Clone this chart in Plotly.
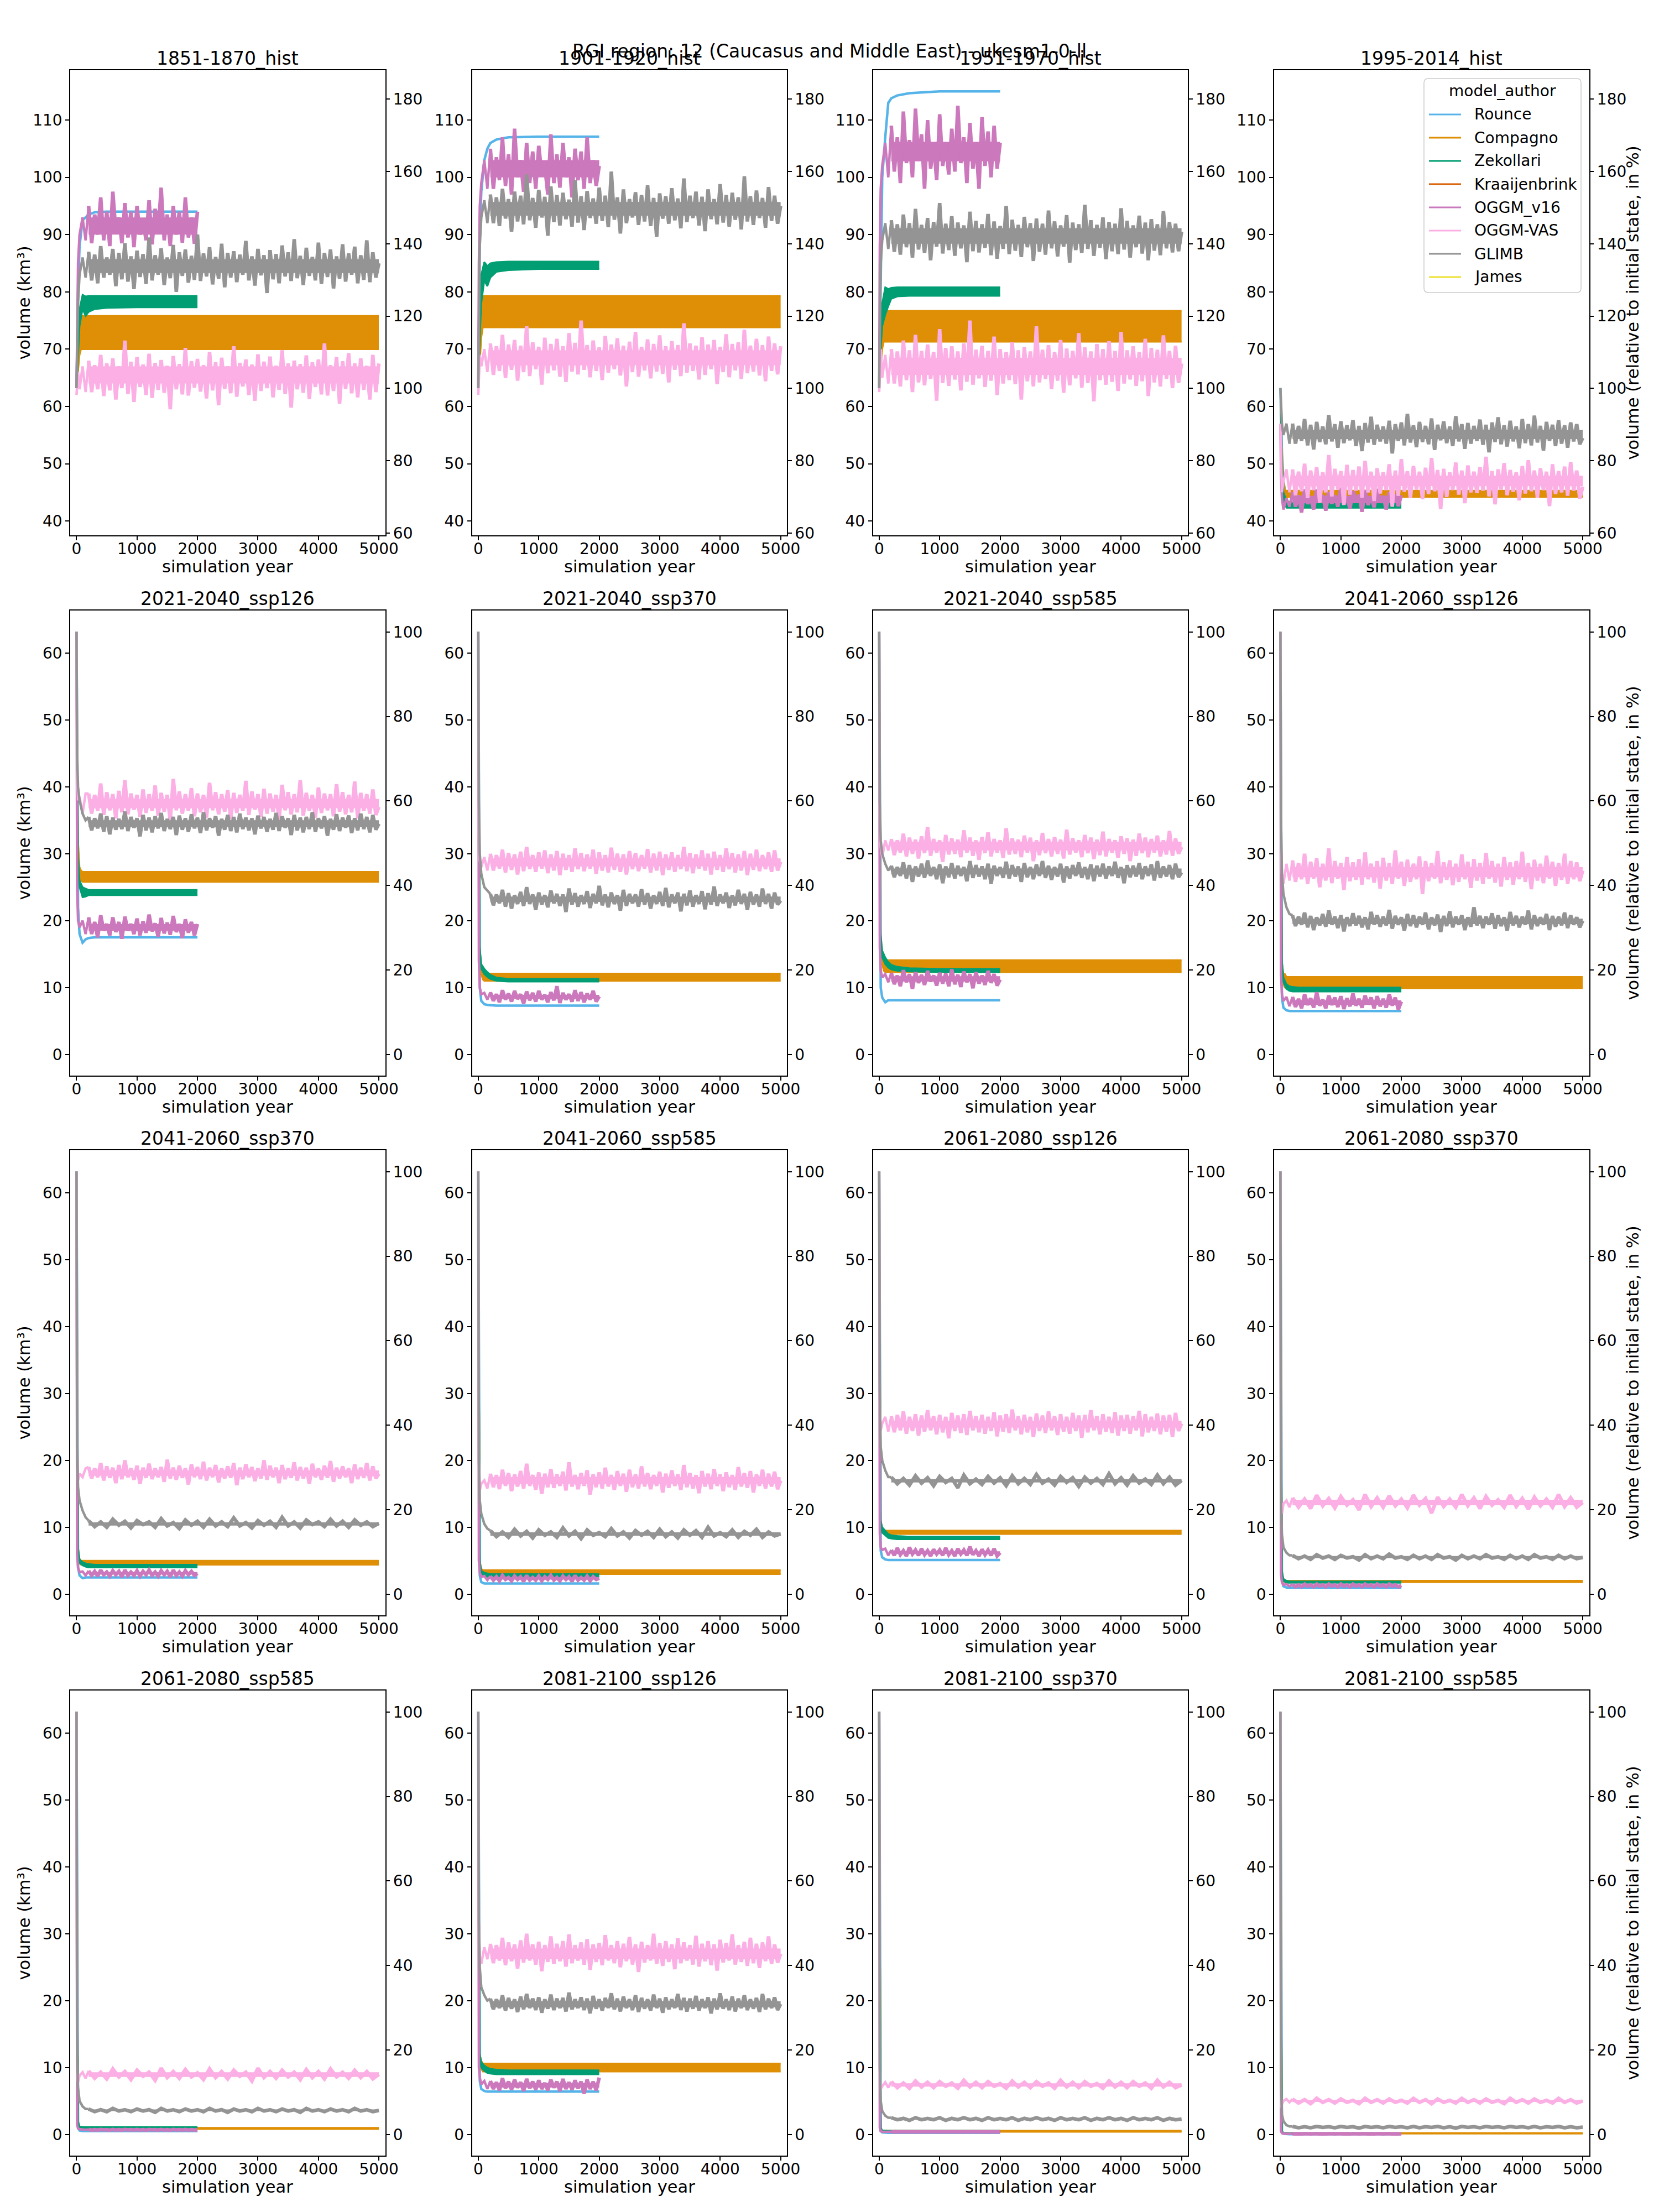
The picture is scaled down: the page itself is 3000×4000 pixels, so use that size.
import plotly.graph_objects as go

# ---------------------------------------------------------------- metadata
SUPTITLE = "RGI region: 12 (Caucasus and Middle East) - ukesm1-0-ll"
PANEL_TITLES = [
    "1851-1870_hist", "1901-1920_hist", "1951-1970_hist", "1995-2014_hist",
    "2021-2040_ssp126", "2021-2040_ssp370", "2021-2040_ssp585", "2041-2060_ssp126",
    "2041-2060_ssp370", "2041-2060_ssp585", "2061-2080_ssp126", "2061-2080_ssp370",
    "2061-2080_ssp585", "2081-2100_ssp126", "2081-2100_ssp370", "2081-2100_ssp585",
]
MODELS = ["Rounce", "Compagno", "Zekollari", "Kraaijenbrink",
          "OGGM_v16", "OGGM-VAS", "GLIMB", "James"]
COLORS = ["#56B4E9", "#DE8F05", "#029E73", "#D55E00",
          "#CC78BC", "#FBAFE4", "#949494", "#ECE133"]
LEGEND_TITLE = "model_author"
INITIAL_VOLUME = 63.15  # km3, = 100 % on the right axes

X_TICKS = [0, 1000, 2000, 3000, 4000, 5000]
Y_TICKS_HIST = [40, 50, 60, 70, 80, 90, 100, 110]
Y2_TICKS_HIST = [60, 80, 100, 120, 140, 160, 180]
Y_TICKS_FUT = [0, 10, 20, 30, 40, 50, 60]
Y2_TICKS_FUT = [0, 20, 40, 60, 80, 100]

# year grids: noisy series = spin-up years, then evenly spaced samples up to the end year
SPIN_YEARS = [0, 10, 25, 50, 100, 150]
SMOOTH_YEARS = [0, 25, 50, 100, 150, 200, 300, 500, 1000, 2000]
COMP_YEARS = [0, 25, 50, 75, 100, 5000]

# dense middle of the noisy equilibrium series, one [low, high] per panel
V16_CORE = [[90, 93], [100, 103], [102.8, 106.2], [43.1, 44.4],
            [18.5, 19.5], [8.3, 8.9], [10.9, 11.7], [7.4, 8.1],
            [2.95, 3.3], [2.2, 2.5], [6, 6.4], [1.2, 1.4],
            [0.68, 0.72], [7, 7.7], [0.39, 0.41], [0.095, 0.105]]
VAS_CORE = [[64, 67], [67.2, 69.8], [65.5, 68.5], [46.1, 47.9],
            [36.8, 38.2], [28.1, 29.3], [30.5, 31.8], [26.5, 28],
            [17.7, 18.5], [16.5, 17.5], [24.9, 25.9], [13.3, 14.1],
            [8.6, 9.3], [26.2, 27.8], [7.15, 7.65], [4.85, 5.15]]
GLIMB_CORE = [[83.3, 85.7], [93.3, 95.7], [88.4, 91.1], [54.3, 55.9],
              [34, 35], [22.8, 23.6], [26.9, 27.8], [19.5, 20.3],
              [10.25, 10.75], [8.75, 9.25], [16.7, 17.2], [5.4, 5.7],
              [3.5, 3.75], [19, 19.9], [2.25, 2.4], [1.05, 1.15]]

# ---------------------------------------------------------------- 1851-1870_hist
P01_ROUNCE = [63.2, 80, 88, 92.5, 93, 93.5, 93.9, 94, 94, 94]
P01_ZEK_LO = [63.2, 68, 74, 77, 75.8, 76.5, 77.0, 77.2, 77.3, 77.3]
P01_ZEK_HI = [63.2, 72, 77, 79.5, 79.2, 79.3, 79.3, 79.3, 79.3, 79.3]
P01_COMP_LO = [63.2, 66, 69, 70.0, 70.0, 70.0]
P01_COMP_HI = [63.2, 68, 72, 75.8, 75.8, 75.8]
P01_V16 = [63.2, 75, 85, 90, 93, 89,
           95, 88.5, 93.5, 90, 96.5, 89, 94, 88, 97.5, 90.5,
           93, 88.5, 95.5, 89.5, 94, 87.8, 95, 90, 92.5, 89,
           96, 88.3, 94.5, 90.5, 98.2, 89, 93.5, 88, 95, 90,
           94, 88.6, 96.5, 89.5, 93, 88.4, 94]
P01_VAS = [62, 64, 66, 63, 67, 62.5,
           68, 62.5, 67.2, 63, 69, 61.8, 67.5, 62.8, 68.4, 61.2,
           67, 63.2, 71.5, 62.2, 67.8, 60.8, 68.6, 63.4, 67.3, 62,
           69.2, 61.5, 67.6, 62.9, 68.1, 62.4, 67.1, 59.5, 68.8, 63,
           67.4, 62.1, 70.2, 61.9, 67.9, 63.3, 68.3, 62.6, 67.2, 61.4,
           69.5, 62.8, 67.7, 60.2, 68.5, 63.1, 67, 62.3, 70.5, 61.7,
           67.6, 63.5, 68.2, 62, 67.3, 61, 69.1, 62.7, 67.8, 63.2,
           68.7, 61.6, 67.1, 62.9, 69.8, 62.2, 67.5, 59.8, 68, 63,
           67.4, 62.4, 68.9, 61.3, 67.7, 63.4, 68.2, 62.1, 71, 61.9,
           67.2, 62.7, 68.6, 60.5, 67.9, 63.1, 69.3, 62.3, 67.5, 61.6,
           68.4, 62.9, 67.1, 61.2, 69, 62.5, 67.5]
P01_GLIMB = [63.2, 70, 78, 83, 86, 82.5,
             87, 82, 86.5, 81.5, 88, 82.5, 86, 83, 87.5, 81,
             86.8, 82.2, 88.5, 81.8, 86.2, 80.5, 87.2, 82.6, 86.6, 81.4,
             89.5, 82, 86.4, 83, 87.6, 81.2, 86, 82.4, 88.2, 80,
             86.9, 82.8, 87.4, 81.6, 86.3, 82.1, 90, 81.9, 86.7, 82.7,
             87.8, 81.3, 86.1, 82.3, 88.4, 80.8, 86.8, 82.5, 87.1, 81.7,
             86.5, 83, 88.9, 82, 86.2, 81.1, 87.5, 82.9, 86.4, 79.8,
             87.3, 82.2, 86.6, 81.5, 88.1, 82.7, 86.9, 81.9, 89.2, 82.4,
             86.3, 81.2, 87.7, 82.8, 86.1, 82, 88.6, 81.4, 86.8, 82.6,
             87.4, 80.6, 86.2, 82.3, 88.3, 81.8, 86.7, 83, 87.9, 81.5,
             86.4, 82.1, 89, 81.7, 86.9, 82.5, 85]

# ---------------------------------------------------------------- 1901-1920_hist
P02_ROUNCE = [63.2, 90, 97.5, 103, 105, 106, 106.6, 107, 107.1, 107.1]
P02_ZEK_LO = [63.2, 72, 78, 82, 81, 82.5, 83.5, 83.8, 84, 84]
P02_ZEK_HI = [63.2, 76, 83, 85.2, 84.5, 85, 85.2, 85.3, 85.3, 85.3]
P02_COMP_LO = [63.2, 68, 72, 73.8, 73.8, 73.8]
P02_COMP_HI = [63.2, 70, 75, 79.3, 79.3, 79.3]
P02_V16 = [63.2, 85, 95, 99, 103, 98,
           105, 98, 103.5, 99.5, 107, 98.5, 104, 97, 108.5, 100,
           103, 97.5, 106, 99, 104.5, 98, 105.5, 100.5, 102, 97,
           107.5, 99, 104, 98.2, 106, 100, 103.5, 96.5, 105, 99.5,
           104.5, 98, 107, 99, 103, 98.5, 102]
P02_VAS = [62, 66, 69, 67, 70, 66,
           71, 65.5, 70.5, 66.2, 72.5, 65, 70.8, 66.4, 71.6, 64.5,
           70.6, 66, 74, 65.3, 71.2, 66.5, 70.4, 63.8, 72, 65.8,
           70.9, 66.3, 71.8, 65.2, 70.5, 64.3, 72.8, 66.1, 71.1, 65.6,
           75, 66.4, 70.7, 65.1, 71.5, 66.2, 70.3, 64.6, 72.3, 65.9,
           70.8, 66.5, 71.9, 65.4, 70.6, 63.5, 71.3, 66, 73, 65.2,
           70.4, 66.3, 71.7, 64.9, 70.9, 66.1, 72.4, 65.7, 70.5, 64.2,
           71.4, 66.4, 70.7, 65.3, 74.5, 65.9, 71, 66.2, 70.6, 64.7,
           72.1, 65.5, 70.8, 66.5, 71.6, 63.9, 70.4, 66, 72.6, 65.1,
           70.9, 66.3, 71.2, 64.8, 73.4, 65.8, 70.6, 66.1, 71.8, 65.4,
           70.7, 64.4, 72.2, 66.2, 71, 65.6, 70.5]
P02_GLIMB = [63.2, 78, 88, 93, 96, 92,
             97, 92, 96.5, 91.5, 98, 92.8, 96.2, 90.5, 97.5, 92.3,
             96.8, 91.8, 100.5, 92.5, 96.4, 91.2, 97.8, 93, 96.6, 89.8,
             98.4, 92.2, 96.9, 91.6, 97.3, 92.7, 96.1, 91.4, 99.5, 92.1,
             96.7, 90.8, 97.6, 92.9, 96.3, 91.9, 98.2, 92.4, 96.8, 91.3,
             101, 92.6, 96.5, 90.2, 97.9, 92, 96.2, 93, 97.4, 91.7,
             96.9, 92.3, 98.6, 91.5, 96.4, 89.6, 97.2, 92.8, 96.7, 91.9,
             98.1, 92.5, 96.3, 91.1, 99.8, 92.2, 96.8, 92.9, 97.5, 91.6,
             96.6, 90.6, 97.9, 92.7, 96.2, 91.8, 98.8, 92.1, 96.9, 91.4,
             97.3, 92.6, 96.5, 90.9, 100.2, 92.3, 96.7, 91.7, 97.7, 92.9,
             96.4, 91.2, 98.3, 92.4, 96.8, 91.9, 95]

# ---------------------------------------------------------------- 1951-1970_hist
P03_ROUNCE = [63.2, 82, 100, 107, 113, 113.8, 114.3, 114.7, 115, 115]
P03_ZEK_LO = [63.2, 70, 74, 76, 77.5, 78.8, 79.2, 79.3, 79.3, 79.3]
P03_ZEK_HI = [63.2, 72, 78, 80.8, 80.5, 80.7, 80.8, 80.8, 80.8, 80.8]
P03_COMP_LO = [63.2, 67, 70, 71.3, 71.3, 71.3]
P03_COMP_HI = [63.2, 70, 74, 76.7, 76.7, 76.7]
P03_V16 = [63.2, 88, 98, 102, 106, 100,
           109, 101, 107, 99, 111.5, 102.5, 106.5, 100, 112, 103,
           107.5, 98, 110, 101.5, 106, 99.5, 111, 102, 105.5, 100.5,
           108.5, 101, 112.5, 102.5, 107, 99, 109.5, 101.5, 106, 98,
           110.5, 102, 108, 100, 109, 101.5, 106]
P03_VAS = [62.5, 66, 70, 65, 69, 64,
           70, 64, 69.6, 63.5, 71.5, 64.6, 69.8, 62.5, 72.5, 64.2,
           69.7, 63.7, 70.8, 64.8, 69.5, 61, 73.5, 64.1, 70.2, 63.6,
           70.5, 64.7, 69.6, 62.8, 71, 64.3, 75, 63.8, 69.9, 64.9,
           70.6, 63.4, 69.7, 64.5, 72.2, 62, 70, 64, 69.5, 64.6,
           71.2, 63.9, 69.8, 61.2, 70.4, 64.4, 69.6, 63.5, 74, 64.2,
           69.9, 64.8, 70.7, 63.1, 69.5, 64.5, 71.6, 62.4, 70.1, 63.7,
           69.7, 64.9, 72.8, 63.3, 70.3, 64.1, 69.6, 60.9, 70.9, 64.6,
           70, 63.8, 71.4, 64.3, 69.7, 62.7, 73, 64, 69.8, 64.7,
           70.5, 63.6, 69.5, 64.4, 71.8, 61.8, 70.2, 64.2, 69.9, 63.5,
           72.4, 64.8, 69.7, 63.2, 70.6, 64.1, 67.5]
P03_GLIMB = [63.2, 76, 85, 89, 92, 87.5,
             92.5, 87, 91.8, 86.5, 93.5, 87.8, 92, 86, 94.5, 87.4,
             91.7, 86.8, 92.9, 85.5, 92.2, 87.9, 95.5, 86.7, 91.9, 87.3,
             93.2, 86.3, 92.1, 87.6, 91.6, 85.2, 94, 87.1, 92.4, 86.9,
             91.8, 87.7, 93.6, 86.4, 92.3, 85.8, 91.5, 87.5, 95, 86.6,
             92.6, 87.2, 91.7, 86.1, 93.1, 87.8, 92, 85.4, 92.8, 87,
             91.9, 86.5, 94.2, 87.6, 92.3, 86.2, 91.6, 87.9, 93.4, 85.1,
             92.1, 87.3, 91.8, 86.8, 95.2, 87.5, 92.5, 86.3, 91.7, 87.7,
             93, 85.7, 92.2, 87.1, 91.9, 86.6, 94.6, 87.4, 92.4, 86,
             91.6, 87.8, 93.3, 86.7, 92.1, 85.5, 92.7, 87.2, 91.8, 86.4,
             94.1, 87.6, 92.2, 86.9, 91.9, 87.1, 90.5]

# ---------------------------------------------------------------- 1995-2014_hist
P04_ROUNCE = [63.2, 52, 47, 43.5, 43.2, 43.1, 43, 43, 43, 43]
P04_ZEK_LO = [63.2, 48, 43.5, 42.3, 42.3, 42.3, 42.3, 42.3, 42.3, 42.3]
P04_ZEK_HI = [63.2, 50, 45, 43.5, 43.3, 43.2, 43.2, 43.2, 43.2, 43.2]
P04_COMP_LO = [63.2, 50, 45, 44.2, 44.2, 44.2]
P04_COMP_HI = [63.2, 52, 47, 45.3, 45.3, 45.3]
P04_V16 = [57, 48, 44, 42, 44, 42.5,
           45, 42.5, 44.5, 41.5, 45.5, 43, 44, 42, 45.5, 43.5,
           44.5, 41.8, 45, 43, 44.5, 42.5, 45.8, 43, 44, 42.2,
           45.2, 43.4, 44.6, 41.6, 45.4, 42.8, 44.2, 42.4, 45.6, 43.2,
           44.4, 42, 45, 43, 44.6, 42.6, 44.5]
P04_VAS = [57, 50, 45, 47, 49, 45,
           49, 44.5, 48.6, 45.2, 50, 44, 48.8, 45.4, 49.4, 43.2,
           48.5, 45, 51.5, 44.3, 49.1, 45.5, 48.7, 42.8, 49.8, 44.6,
           48.9, 45.3, 49.5, 44.1, 50.5, 45, 48.6, 43.5, 49.2, 44.8,
           48.5, 45.4, 49.9, 42.5, 48.8, 44.4, 50.8, 45.1, 48.7, 44,
           49.6, 45.5, 48.6, 43.8, 49.3, 44.7, 51, 45.2, 48.9, 42.1,
           49.1, 44.2, 48.5, 45.4, 50.2, 44.6, 48.8, 43.1, 49.7, 45,
           48.6, 44.9, 49.4, 45.3, 51.2, 44.3, 48.7, 42.9, 49, 45.5,
           50.1, 44.5, 48.9, 45.1, 48.5, 43.6, 49.6, 44.8, 50.6, 45.2,
           48.8, 44.1, 49.2, 45.4, 48.6, 42.6, 49.9, 44.7, 48.7, 45,
           49.5, 44.4, 50.3, 45.3, 48.8, 43.9, 46]
P04_GLIMB = [63.2, 60, 57, 55, 57, 53.5,
             57, 53.5, 56.6, 54, 57.8, 53.2, 56.8, 52.5, 57.3, 53.8,
             56.5, 53.4, 58.5, 53.9, 56.9, 52.8, 57.4, 53.6, 56.7, 54.1,
             57.6, 53.1, 56.6, 52.2, 57.1, 53.7, 58.2, 53.3, 56.8, 53.9,
             56.5, 53.5, 57.5, 51.8, 56.9, 54, 57.2, 53.2, 58.7, 53.7,
             56.7, 52.9, 57.3, 53.8, 56.6, 53.4, 57.9, 52.4, 56.8, 54.1,
             57.4, 53.6, 56.5, 53.1, 58.3, 53.9, 56.9, 52.6, 57.1, 53.5,
             56.6, 54, 57.7, 53.3, 56.8, 52, 57.2, 53.8, 58.1, 53.4,
             56.7, 53, 57.5, 53.9, 56.5, 52.7, 57.8, 53.6, 56.9, 53.2,
             58.4, 53.7, 56.6, 52.3, 57.3, 54, 56.8, 53.1, 57.6, 53.5,
             56.7, 52.8, 57.2, 53.9, 56.9, 53.4, 54.5]

# ---------------------------------------------------------------- 2021-2040_ssp126
P05_ROUNCE = [63.2, 22, 18, 16.7, 17.2, 17.4, 17.5, 17.5, 17.5, 17.5]
P05_ZEK_LO = [63.2, 28, 25, 23.5, 23.6, 23.8, 23.8, 23.8, 23.8, 23.8]
P05_ZEK_HI = [63.2, 30, 26, 25, 24.8, 24.6, 24.6, 24.6, 24.6, 24.6]
P05_COMP_LO = [63.2, 30, 27, 26, 25.8, 25.8]
P05_COMP_HI = [63.2, 32, 28, 27.5, 27.3, 27.3]
P05_V16 = [63.2, 25, 20, 19, 20, 18,
           20.5, 18, 19.8, 17.5, 20.8, 18.5, 19.5, 17.8, 20.5, 18.3,
           19.8, 17.3, 20.6, 18.5, 19.5, 18, 20.3, 17.8, 19.9, 18.2,
           20.9, 18.4, 19.6, 17.6, 20.4, 18.1, 19.7, 17.9, 20.7, 18.3,
           19.5, 17.4, 20.2, 18.2, 19.8, 17.8, 19.5]
P05_VAS = [63.2, 42, 38, 38.5, 36, 39,
           39, 36, 38.8, 36.4, 40.5, 35.8, 39.2, 36.5, 38.9, 35.3,
           39.4, 36.2, 41, 35.9, 39, 36.6, 38.8, 35.5, 39.6, 36.1,
           38.9, 36.4, 40.2, 35.7, 39.1, 36.3, 38.8, 35, 41.2, 36.5,
           39.3, 36, 38.9, 36.4, 39.8, 35.6, 39, 36.2, 38.8, 35.4,
           40.6, 36.5, 39.2, 35.9, 38.9, 36.3, 39.5, 35.2, 39.1, 36.1,
           38.8, 36.4, 40.9, 35.8, 39.3, 36.6, 38.9, 35.5, 39.7, 36,
           39, 36.3, 38.8, 35.1, 40.3, 36.5, 39.2, 35.9, 38.9, 36.2,
           41, 35.7, 39.1, 36.4, 38.8, 35.4, 39.9, 36.1, 39, 36.5,
           38.9, 35.6, 40.4, 36.3, 39.2, 35.9, 38.8, 36.2, 40.8, 35.3,
           39.1, 36.4, 38.9, 36, 39.6, 35.8, 37]
P05_GLIMB = [63.2, 45, 40, 38, 36, 35,
             35.5, 33.5, 35.3, 33.8, 36, 33.3, 35.6, 32.9, 35.4, 33.6,
             35.2, 33.7, 36.3, 33.4, 35.5, 33.9, 35.3, 32.6, 35.8, 33.5,
             35.4, 33.2, 35.6, 33.8, 36.1, 33.4, 35.2, 33.7, 35.5, 32.8,
             35.7, 33.6, 35.3, 33.3, 35.9, 33.8, 35.4, 33.1, 36.2, 33.5,
             35.3, 33.9, 35.6, 32.7, 35.2, 33.6, 35.8, 33.4, 35.5, 33.2,
             36, 33.7, 35.4, 33.5, 35.3, 32.9, 35.7, 33.8, 35.5, 33.3,
             35.2, 33.6, 36.1, 33.4, 35.6, 33.9, 35.3, 32.8, 35.8, 33.5,
             35.4, 33.2, 35.5, 33.7, 36.2, 33.3, 35.3, 33.8, 35.6, 32.7,
             35.2, 33.6, 35.9, 33.4, 35.4, 33.9, 35.7, 33.1, 35.3, 33.5,
             36, 33.7, 35.5, 33.2, 35.8, 33.6, 34.5]

# ---------------------------------------------------------------- 2021-2040_ssp370
P06_ROUNCE = [63.2, 10, 8, 7.5, 7.4, 7.35, 7.3, 7.3, 7.3, 7.3]
P06_ZEK_LO = [63.2, 15, 12.8, 12, 11.6, 11.3, 11.0, 10.9, 10.9, 10.9]
P06_ZEK_HI = [63.2, 16, 13.5, 12.8, 12.3, 11.9, 11.5, 11.3, 11.3, 11.3]
P06_COMP_LO = [63.2, 14, 12, 11.2, 11, 11]
P06_COMP_HI = [63.2, 16, 13, 12.2, 12.1, 12.1]
P06_V16 = [63.2, 14, 10, 9, 9.2, 8.2,
           9.3, 8, 9, 7.8, 9.6, 8.2, 9.1, 7.9, 9.5, 8.3,
           9, 7.6, 9.4, 8.1, 9.2, 7.9, 9.5, 8.2, 8.9, 7.8,
           9.3, 8.1, 10.2, 7.7, 9.2, 8.2, 9, 7.9, 9.6, 8,
           9.3, 7.8, 9.1, 8.2, 9.5, 7.9, 8.7]
P06_VAS = [63.2, 33, 29, 28, 29.5, 27.5,
           30, 27.5, 29.8, 27.8, 30.6, 27.2, 30.1, 27.6, 29.9, 26.9,
           30.3, 27.4, 31, 27.7, 29.8, 27.3, 30.2, 27.8, 30.5, 27.1,
           29.9, 27.5, 30.4, 26.8, 30, 27.6, 29.8, 27.3, 30.8, 27.7,
           30.1, 27.4, 29.9, 27.8, 30.6, 27, 30.2, 27.5, 29.8, 27.2,
           30.9, 27.6, 30, 27.3, 29.9, 26.9, 30.4, 27.7, 30.1, 27.4,
           29.8, 27.8, 30.7, 27.2, 30, 27.5, 30.3, 26.8, 29.9, 27.6,
           30.2, 27.3, 29.8, 27.7, 31, 27.4, 30.1, 27.1, 29.9, 27.8,
           30.5, 27.5, 30, 26.9, 30.3, 27.6, 29.8, 27.3, 30.8, 27.7,
           30.1, 27.2, 29.9, 27.5, 30.4, 26.8, 30, 27.6, 30.6, 27.4,
           29.8, 27.7, 30.2, 27.3, 30.5, 27.5, 28.8]
P06_GLIMB = [63.2, 38, 30, 27, 25, 24.5,
             24, 22.3, 23.9, 22.6, 24.6, 22.1, 24.1, 21.8, 23.8, 22.5,
             24.3, 22.2, 25, 22.5, 23.9, 21.6, 24.2, 22.4, 23.8, 22,
             24.5, 22.6, 24, 22.2, 23.9, 21.3, 24.8, 22.4, 24.1, 22.1,
             23.8, 22.5, 24.4, 21.9, 24, 22.6, 25.2, 22.3, 23.9, 22,
             24.2, 22.5, 23.8, 21.5, 24.6, 22.2, 24, 22.6, 23.9, 22.1,
             24.7, 22.4, 24.1, 21.8, 23.8, 22.5, 24.3, 22.2, 24.9, 22,
             23.9, 22.6, 24.2, 21.4, 24, 22.3, 24.5, 22.1, 23.8, 22.5,
             24.4, 21.7, 24.1, 22.4, 25.1, 22.2, 23.9, 22.6, 24.2, 21.9,
             23.8, 22.3, 24.6, 22.5, 24, 21.6, 24.3, 22.4, 23.9, 22.1,
             24.8, 22.5, 24, 21.8, 24.2, 22.4, 23]

# ---------------------------------------------------------------- 2021-2040_ssp585
P07_ROUNCE = [63.2, 10, 8.5, 7.8, 8.1, 8.1, 8.1, 8.1, 8.1, 8.1]
P07_ZEK_LO = [63.2, 17, 14.5, 13.5, 13, 12.7, 12.5, 12.4, 12.3, 12.3]
P07_ZEK_HI = [63.2, 18, 15.5, 14.5, 13.8, 13.4, 13.1, 12.9, 12.8, 12.8]
P07_COMP_LO = [63.2, 15, 13.5, 12.5, 12.3, 12.3]
P07_COMP_HI = [63.2, 17, 15.5, 15, 14.1, 14.1]
P07_V16 = [63.2, 16, 12.5, 11.5, 12, 10.8,
           12.2, 10.5, 11.8, 10.2, 12.6, 10.8, 12, 9.8, 12.3, 10.7,
           11.9, 10.4, 12.5, 10.9, 11.8, 10.3, 12.2, 10.6, 12.1, 10.2,
           12.7, 10.5, 11.9, 10.1, 12.4, 10.8, 12, 9.9, 12.3, 10.6,
           11.8, 10.4, 12.5, 10.7, 12, 10.3, 11.2]
P07_VAS = [63.2, 36, 31, 29.5, 32, 30.5,
           32.2, 29.8, 32, 30.2, 33, 29.6, 32.4, 30, 32.1, 29.3,
           32.6, 30.1, 34, 29.7, 32.2, 30.2, 32, 28.8, 32.8, 29.9,
           32.3, 30, 32.1, 29.5, 33.5, 30.2, 32.4, 29.7, 32, 29.1,
           32.5, 30.1, 33.2, 29.6, 32.2, 30.2, 32, 29.4, 33.8, 29.9,
           32.3, 30, 32.1, 29.5, 32.7, 30.2, 32.4, 28.9, 32, 29.8,
           33.1, 30.1, 32.2, 29.6, 32.5, 30, 32.1, 29.3, 33.6, 29.9,
           32.3, 30.2, 32, 29.5, 32.8, 30.1, 32.4, 29.2, 32.1, 29.8,
           33.3, 29.6, 32.2, 30.2, 32, 29.4, 32.6, 30, 32.3, 28.9,
           32.1, 29.7, 33, 30.1, 32.4, 29.5, 32.2, 30.2, 32.7, 29.6,
           32, 29.9, 33.4, 29.7, 32.3, 30, 31]
P07_GLIMB = [63.2, 38, 32, 30, 28.5, 27.5,
             28.2, 26.5, 28, 26.7, 28.7, 26.3, 28.3, 25.8, 28.1, 26.6,
             28.5, 26.4, 29, 26.7, 28, 26.2, 28.4, 25.6, 28.1, 26.5,
             28.6, 26.3, 28.2, 26.7, 28, 25.9, 28.9, 26.4, 28.3, 26.6,
             28.1, 26.2, 28.5, 25.5, 28.2, 26.7, 28, 26.4, 28.8, 26.3,
             28.3, 26.6, 28.1, 25.8, 28.6, 26.5, 28, 26.2, 28.4, 26.7,
             28.9, 26.4, 28.2, 26.1, 28, 26.6, 28.5, 25.7, 28.1, 26.3,
             28.3, 26.7, 28.7, 26.4, 28, 26.2, 28.4, 25.9, 28.2, 26.6,
             28.5, 26.3, 28.1, 26.7, 28.8, 26.4, 28, 25.6, 28.3, 26.5,
             28.2, 26.6, 28.6, 26.2, 28.1, 26.7, 28.4, 26, 28.9, 26.4,
             28.1, 26.6, 28.3, 26.2, 28.5, 26.5, 27.2]

# ---------------------------------------------------------------- 2041-2060_ssp126
P08_ROUNCE = [63.2, 8.5, 7, 6.6, 6.5, 6.5, 6.5, 6.5, 6.5, 6.5]
P08_ZEK_LO = [63.2, 13, 10.8, 9.8, 9.5, 9.4, 9.4, 9.4, 9.4, 9.4]
P08_ZEK_HI = [63.2, 14, 11.5, 10.5, 10.2, 10.1, 10, 10, 10, 10]
P08_COMP_LO = [63.2, 12, 10.5, 10, 9.9, 9.9]
P08_COMP_HI = [63.2, 14, 12, 12, 11.6, 11.6]
P08_V16 = [63.2, 12, 9, 8, 8.6, 7.2,
           8.6, 7.1, 8.3, 6.9, 9, 7.4, 8.4, 7, 9.3, 7.3,
           8.2, 6.9, 8.8, 7.4, 8.5, 7.1, 8.7, 6.8, 8.4, 7.2,
           9.1, 7.3, 8.3, 7, 8.8, 7.5, 8.5, 6.9, 8.7, 7.2,
           8.3, 7, 9, 7.3, 8.5, 6.7, 7.9]
P08_VAS = [63.2, 32, 27, 25.5, 28.5, 26,
           29, 25.8, 28.6, 26.2, 30, 25.5, 28.8, 26.3, 29.3, 25,
           28.5, 26, 30.8, 25.6, 28.9, 26.3, 28.6, 24.6, 29.5, 25.9,
           28.7, 26.1, 29.2, 25.4, 30.2, 26.2, 28.5, 25.7, 28.9, 24.8,
           29.4, 26, 28.6, 25.5, 30.5, 26.3, 28.8, 25.2, 29.1, 25.8,
           28.5, 26.2, 29.6, 24, 28.9, 25.9, 28.6, 26.3, 30.4, 25.6,
           28.7, 26.1, 29, 25.3, 28.5, 25.8, 29.9, 26.2, 28.8, 24.9,
           29.2, 26, 28.6, 25.5, 30.1, 26.3, 28.9, 25.7, 28.5, 25.1,
           29.5, 26.1, 28.7, 25.4, 28.9, 26.2, 30.3, 25.8, 28.6, 24.7,
           29.1, 26, 28.5, 25.6, 29.7, 26.3, 28.8, 25.2, 28.6, 26.1,
           30, 25.5, 28.9, 26.2, 28.7, 25.9, 27.5]
P08_GLIMB = [63.2, 35, 27, 24, 22, 21,
             20.8, 19.2, 20.6, 19.4, 21.2, 19, 20.7, 18.6, 20.5, 19.3,
             21, 19.1, 21.5, 19.4, 20.6, 18.9, 20.8, 18.4, 20.5, 19.2,
             21.1, 19.3, 20.7, 19, 20.5, 18.7, 21.3, 19.4, 20.8, 19.1,
             20.6, 19.3, 21.6, 18.8, 20.7, 19.4, 20.5, 18.5, 21, 19.2,
             20.8, 19, 20.6, 19.4, 21.2, 18.7, 20.5, 19.3, 20.9, 18.3,
             20.7, 19.2, 21.4, 19, 20.6, 19.4, 20.8, 18.6, 20.5, 19.1,
             22, 19.3, 20.7, 18.9, 20.6, 19.4, 21.1, 18.8, 20.8, 19.2,
             20.5, 18.5, 21.3, 19.3, 20.7, 19, 20.6, 19.4, 21.5, 18.7,
             20.8, 19.2, 20.5, 19.4, 21, 18.6, 20.7, 19.1, 20.6, 19.3,
             21.2, 18.9, 20.8, 19.4, 20.5, 19, 20]

# ---------------------------------------------------------------- 2041-2060_ssp370
P09_ROUNCE = [63.2, 4, 2.8, 2.4, 2.5, 2.5, 2.5, 2.5, 2.5, 2.5]
P09_ZEK_LO = [63.2, 6, 4.7, 4.3, 4.1, 4.0, 4.0, 4.0, 4.0, 4.0]
P09_ZEK_HI = [63.2, 7, 5.2, 4.8, 4.6, 4.5, 4.4, 4.4, 4.4, 4.4]
P09_COMP_LO = [63.2, 6, 4.6, 4.4, 4.4, 4.4]
P09_COMP_HI = [63.2, 7, 5.3, 5.0, 5.0, 5.0]
P09_V16 = [63.2, 6, 4, 3.3, 3.4, 2.8,
           3.5, 2.8, 3.4, 2.7, 3.6, 2.9, 3.3, 2.7, 3.5, 2.9,
           3.4, 2.6, 3.6, 2.8, 3.3, 2.8, 3.5, 2.7, 3.4, 2.9,
           3.6, 2.8, 3.3, 2.7, 3.5, 2.9, 3.4, 2.6, 3.6, 2.8,
           3.3, 2.7, 3.5, 2.9, 3.4, 2.8, 3.1]
P09_VAS = [63.2, 22, 17, 18, 17.5, 18.8,
           19, 17.3, 18.8, 17.5, 19.6, 17, 19.1, 17.4, 18.9, 16.6,
           19.3, 17.2, 20, 17.5, 18.8, 17.1, 19.2, 16.5, 18.9, 17.4,
           19.5, 17.2, 18.8, 17.5, 19, 16.8, 20.1, 17.3, 18.9, 17.1,
           19.2, 17.4, 18.8, 16.4, 19.4, 17.5, 19, 17.2, 19.8, 17,
           18.9, 17.5, 19.3, 16.7, 18.8, 17.3, 19.1, 17.4, 19.6, 16.3,
           18.9, 17.2, 19.4, 17.5, 19, 16.9, 18.8, 17.3, 20, 17.1,
           19.2, 17.5, 18.9, 16.6, 19.3, 17.2, 18.8, 17.4, 19.7, 17,
           19, 17.3, 18.9, 16.5, 19.5, 17.5, 18.8, 17.1, 19.2, 17.4,
           19.9, 16.8, 18.9, 17.3, 19.1, 17.5, 18.8, 16.6, 19.4, 17.2,
           18.9, 17.4, 19.6, 17, 19.1, 17.3, 18]
P09_GLIMB = [63.2, 22, 16, 14, 12.5, 11.5,
             11, 10.1, 10.8, 10, 11.2, 10.3, 10.9,
             9.9, 11, 10.4, 10.8, 10, 11.3, 10.2,
             10.7, 9.8, 11.1, 10.3, 10.9, 10, 11.2,
             10.2, 10.8, 10.1, 11.4, 10.2, 10.7, 9.9,
             11, 10.3, 10.9, 10, 11.5, 10.2, 10.8,
             9.9, 11.1, 10.4, 10.8, 10.1, 11.2, 10.2,
             10.9, 10, 11.1, 10.3, 10.8, 10.1, 10.6]

# ---------------------------------------------------------------- 2041-2060_ssp585
P10_ROUNCE = [63.2, 2.8, 1.8, 1.6, 1.6, 1.6, 1.6, 1.6, 1.6, 1.6]
P10_ZEK_LO = [63.2, 4.3, 3, 2.7, 2.6, 2.6, 2.6, 2.6, 2.6, 2.6]
P10_ZEK_HI = [63.2, 5, 3.5, 3.2, 3.1, 3.0, 3.0, 3.0, 3.0, 3.0]
P10_COMP_LO = [63.2, 4.2, 3.2, 3, 3, 3]
P10_COMP_HI = [63.2, 5, 3.8, 3.6, 3.6, 3.6]
P10_V16 = [63.2, 5, 3.2, 2.6, 2.7, 2.1,
           2.7, 2.1, 2.6, 2, 2.8, 2.2, 2.5, 2, 2.7, 2.2,
           2.6, 1.9, 2.8, 2.1, 2.5, 2.1, 2.7, 2, 2.6, 2.2,
           2.8, 2.1, 2.5, 2, 2.7, 2.2, 2.6, 1.9, 2.8, 2.1,
           2.5, 2.1, 2.7, 2, 2.6, 2.2, 2.4]
P10_VAS = [63.2, 20, 15.5, 16.5, 17, 15.8,
           18, 16, 17.8, 15.7, 18.6, 16.2, 18.1, 15.4, 17.9, 16.1,
           18.4, 15.8, 19.5, 16.2, 17.8, 15.6, 18.2, 15, 18, 16,
           18.7, 15.9, 17.9, 16.2, 18.3, 15.5, 19.7, 16.1, 17.8, 15.7,
           18.1, 16.2, 18.5, 14.9, 17.9, 16, 18.2, 15.8, 18.9, 16.1,
           17.8, 15.6, 18.4, 16.2, 18, 15.3, 18.6, 16, 17.9, 15.8,
           19.1, 16.1, 18.1, 15.7, 17.8, 16.2, 18.3, 15.2, 18, 15.9,
           18.5, 16.2, 17.9, 15.6, 19.3, 16, 18.1, 15.8, 17.8, 15.1,
           18.4, 16.1, 18, 15.7, 18.7, 16.2, 17.9, 15.4, 18.2, 16,
           17.8, 15.6, 19, 16.1, 18.1, 15.9, 18.4, 15.2, 17.9, 16.2,
           18.6, 15.8, 18, 16.1, 18.3, 15.7, 17]
P10_GLIMB = [63.2, 20, 14, 12, 10.5, 9.8,
             9.5, 8.6, 9.3, 8.5, 9.7, 8.7, 9.4,
             8.4, 9.6, 8.8, 9.3, 8.5, 9.9, 8.7,
             9.4, 8.3, 9.6, 8.8, 9.2, 8.6, 9.8,
             8.7, 9.3, 8.4, 9.5, 8.8, 9.4, 8.5,
             9.7, 8.6, 9.3, 8.4, 9.6, 8.8, 9.5,
             8.5, 10, 8.7, 9.2, 8.6, 9.6, 8.5,
             9.4, 8.8, 9.7, 8.5, 9.3, 8.7, 9]

# ---------------------------------------------------------------- 2061-2080_ssp126
P11_ROUNCE = [63.2, 6.5, 5.5, 5.2, 5.1, 5.1, 5.1, 5.1, 5.1, 5.1]
P11_ZEK_LO = [63.2, 10, 9.2, 8.8, 8.4, 8.3, 8.2, 8.2, 8.2, 8.2]
P11_ZEK_HI = [63.2, 11, 10, 9.5, 9, 8.8, 8.7, 8.6, 8.6, 8.6]
P11_COMP_LO = [63.2, 10, 9.2, 9, 9, 9]
P11_COMP_HI = [63.2, 11, 9.8, 9.6, 9.5, 9.5]
P11_V16 = [63.2, 9, 7, 6.6, 6.8, 5.8,
           6.6, 5.8, 6.9, 5.9, 6.5, 5.7, 7, 6, 6.6, 5.8,
           6.8, 5.9, 6.5, 5.7, 6.7, 6, 6.6, 5.8, 6.9, 5.9,
           6.5, 5.7, 6.8, 6, 6.6, 5.8, 7.1, 5.9, 6.5, 5.7,
           6.7, 5.9, 6.6, 5.8, 6.8, 5.7, 6.2]
P11_VAS = [63.2, 28, 24.5, 25.5, 26.5, 24.3,
           26.6, 24.2, 26.8, 24.5, 27.3, 24, 26.5, 24.4, 26.9, 23.7,
           26.7, 24.3, 27.5, 24.5, 26.6, 23.9, 26.8, 24.2, 26.5, 23.3,
           27.1, 24.4, 26.7, 24.1, 26.9, 23.8, 27.4, 24.5, 26.6, 24.2,
           26.8, 24, 26.5, 24.4, 27.2, 23.6, 26.7, 24.3, 26.9, 24.1,
           27.6, 24.5, 26.6, 23.9, 26.8, 24.2, 26.5, 23.5, 27, 24.4,
           26.7, 24.1, 27.3, 24.5, 26.6, 23.8, 26.9, 24.3, 26.5, 24,
           27.1, 24.4, 26.7, 23.4, 26.8, 24.2, 27.5, 24.5, 26.6, 23.9,
           26.9, 24.3, 26.5, 24.1, 27.2, 23.7, 26.7, 24.4, 26.8, 24,
           26.6, 24.5, 27.4, 23.6, 26.9, 24.2, 26.5, 24.4, 27, 23.9,
           26.7, 24.3, 26.8, 23.5, 27.1, 24.4, 25.5]
P11_GLIMB = [63.2, 30, 22, 20, 18.5, 17.5,
             17.5, 16.5, 17.3, 16.3, 17.7, 16.6, 17.4,
             16.2, 17.6, 16.7, 17.3, 15.9, 17.8, 16.5,
             17.2, 16.4, 17.6, 16.6, 17.4, 16.2, 17.7,
             16.5, 17.3, 16.4, 17.9, 16.6, 17.2, 16.3,
             17.6, 16.7, 17.4, 16.1, 17.5, 16.6, 17.3,
             16.4, 18, 16.5, 17.4, 16.3, 17.7, 16.6,
             17.2, 16.4, 17.8, 16.5, 17.5, 16.3, 17]

# ---------------------------------------------------------------- 2061-2080_ssp370
P12_ROUNCE = [63.2, 2, 1.2, 1.0, 1.0, 1.0, 1.0, 1.0, 1.0, 1.0]
P12_ZEK_LO = [63.2, 3, 2, 1.7, 1.7, 1.7, 1.7, 1.7, 1.7, 1.7]
P12_ZEK_HI = [63.2, 3.5, 2.3, 2.0, 1.9, 1.9, 1.9, 1.9, 1.9, 1.9]
P12_COMP_LO = [63.2, 3, 1.9, 1.8, 1.8, 1.8]
P12_COMP_HI = [63.2, 3.5, 2.2, 2.0, 2.0, 2.0]
P12_V16 = [63.2, 3, 1.8, 1.4, 1.5, 1.2,
           1.5, 1.1, 1.4, 1.1, 1.5, 1.2, 1.4, 1.1, 1.5, 1.2,
           1.4, 1.1, 1.5, 1.2, 1.4, 1.1, 1.5, 1.2, 1.4, 1.1,
           1.5, 1.2, 1.4, 1.1, 1.5, 1.2, 1.4, 1.1, 1.5, 1.2,
           1.4, 1.1, 1.5, 1.2, 1.4, 1.1, 1.3]
P12_VAS = [63.2, 14, 12, 13.5, 14, 13,
           14.4, 13, 14.2, 12.8, 14.8, 13.2, 14.3,
           12.9, 14.6, 13.3, 14.1, 12.6, 14.9, 13.1,
           14.4, 13, 14.7, 13.2, 14.2, 12.9, 14.8,
           13.3, 14.3, 12.1, 14.5, 13.1, 14.2, 13,
           14.9, 13.2, 14.4, 12.8, 14.6, 13.3, 14.1,
           13, 14.8, 13.1, 14.3, 12.7, 14.5, 13.2,
           14.2, 13, 14.9, 13.1, 14.4, 13, 13.7]
P12_GLIMB = [63.2, 14, 9, 7, 6.2, 5.8,
             5.8, 5.3, 5.7, 5.2, 5.9, 5.4, 5.7,
             5.2, 5.8, 5.4, 5.6, 5.1, 5.9, 5.3,
             5.7, 5.3, 6, 5.4, 5.6, 5.2, 5.8,
             5.3, 5.7, 5.2, 5.9, 5.4, 5.6, 5.1,
             5.8, 5.3, 5.7, 5.3, 5.9, 5.4, 5.6,
             5.2, 5.8, 5.3, 5.7, 5.2, 5.9, 5.4,
             5.6, 5.2, 5.8, 5.3, 5.7, 5.3, 5.5]

# ---------------------------------------------------------------- 2061-2080_ssp585
P13_ROUNCE = [63.2, 1, 0.6, 0.5, 0.5, 0.5, 0.5, 0.5, 0.5, 0.5]
P13_ZEK_LO = [63.2, 1.6, 1.0, 0.95, 0.95, 0.95, 0.95, 0.95, 0.95, 0.95]
P13_ZEK_HI = [63.2, 2, 1.2, 1.1, 1.1, 1.1, 1.1, 1.1, 1.1, 1.1]
P13_COMP_LO = [63.2, 1.5, 0.9, 0.8, 0.8, 0.8]
P13_COMP_HI = [63.2, 2, 1.1, 1.0, 1.0, 1.0]
P13_V16 = [63.2, 1.5, 0.9, 0.8, 0.75, 0.7,
           0.75, 0.65, 0.72, 0.66, 0.74, 0.68, 0.72, 0.65, 0.75, 0.67,
           0.73, 0.66, 0.74, 0.68, 0.72, 0.66, 0.75, 0.67, 0.73, 0.65,
           0.74, 0.68, 0.72, 0.66, 0.75, 0.67, 0.73, 0.65, 0.74, 0.68,
           0.72, 0.66, 0.75, 0.67, 0.73, 0.66, 0.7]
P13_VAS = [63.2, 9, 7.8, 8.8, 9.3, 8.4,
           9.5, 8.4, 9.3, 8.3, 9.8, 8.6, 9.4,
           8.2, 9.6, 8.7, 9.3, 8.1, 9.9, 8.5,
           9.4, 8.4, 9.7, 8.6, 9.2, 8.2, 9.8,
           8.5, 9.4, 8.3, 9.6, 8.7, 9.3, 8.0,
           9.9, 8.5, 9.4, 8.4, 9.6, 8.6, 9.3,
           8.2, 9.7, 8.5, 9.4, 8.3, 9.8, 8.6,
           9.3, 8.4, 9.6, 8.5, 9.4, 8.3, 9]
P13_GLIMB = [63.2, 12, 7, 5, 4.2, 3.8,
             3.8, 3.4, 3.7, 3.4, 3.9, 3.5, 3.7,
             3.4, 3.8, 3.5, 3.7, 3.3, 3.9, 3.5,
             3.7, 3.4, 3.8, 3.5, 3.7, 3.4, 3.9,
             3.5, 3.7, 3.3, 3.8, 3.5, 3.7, 3.4,
             3.9, 3.5, 3.7, 3.4, 3.8, 3.5, 3.7,
             3.3, 3.9, 3.5, 3.7, 3.4, 3.8, 3.5,
             3.7, 3.4, 3.9, 3.5, 3.7, 3.4, 3.6]

# ---------------------------------------------------------------- 2081-2100_ssp126
P14_ROUNCE = [63.2, 8, 6.8, 6.5, 6.4, 6.4, 6.4, 6.4, 6.4, 6.4]
P14_ZEK_LO = [63.2, 11, 10, 9.5, 9.2, 9.1, 9, 9, 9, 9]
P14_ZEK_HI = [63.2, 12, 10.8, 10.3, 10, 9.8, 9.7, 9.6, 9.6, 9.6]
P14_COMP_LO = [63.2, 10.5, 9.8, 9.4, 9.4, 9.4]
P14_COMP_HI = [63.2, 12, 11, 10.6, 10.6, 10.6]
P14_V16 = [63.2, 10, 8.5, 7.5, 8, 6.8,
           8, 6.8, 7.8, 6.6, 8.4, 6.9, 7.9, 6.7, 8.2, 7,
           7.8, 6.5, 8.3, 6.9, 7.9, 6.7, 8.1, 6.8, 7.7, 6.6,
           8.2, 7, 7.9, 6.5, 8.3, 6.8, 7.8, 6.7, 8.1, 6.9,
           7.9, 6.1, 8.2, 6.8, 7.9, 6.6, 8.5]
P14_VAS = [63.2, 32, 26, 25.5, 28, 26.2,
           28.5, 25.6, 28.3, 26, 29.4, 25.3, 28.7, 25.9, 28.4, 24.8,
           29, 25.7, 30, 26, 28.4, 25.4, 28.8, 24.4, 28.3, 25.8,
           29.6, 25.5, 28.5, 25.9, 28.9, 25.1, 29.9, 25.6, 28.3, 26,
           28.7, 25.4, 29.2, 24.6, 28.4, 25.8, 28.6, 25.3, 29.8, 26,
           28.3, 25.6, 28.9, 25, 28.5, 25.9, 29.5, 25.4, 28.4, 24.3,
           28.8, 25.7, 28.3, 26, 30, 25.5, 28.6, 25.2, 28.9, 25.8,
           28.4, 24.7, 29.3, 25.6, 28.7, 26, 28.3, 25.4, 29.7, 25.1,
           28.5, 25.9, 28.9, 25.3, 28.4, 24.5, 29.1, 25.7, 28.6, 26,
           29.9, 25.4, 28.3, 25.8, 28.8, 25.2, 29.4, 25.6, 28.5, 24.9,
           28.7, 25.9, 29.6, 25.5, 28.4, 25.7, 27]
P14_GLIMB = [63.2, 32, 25, 22, 20.8, 20,
             20.3, 18.7, 20.2, 18.9, 20.8, 18.5, 20.4, 18.8, 20.2, 18.3,
             20.6, 18.7, 21, 18.9, 20.3, 18.6, 20.5, 18.2, 20.2, 18.8,
             20.9, 18.6, 20.3, 18.9, 20.4, 18.4, 21.2, 18.7, 20.2, 18.9,
             20.5, 18.6, 20.3, 18.1, 20.7, 18.8, 20.2, 18.5, 20.4, 18.9,
             21.1, 18.7, 20.3, 18.4, 20.6, 18.9, 20.2, 18.6, 20.8, 18.3,
             20.4, 18.8, 20.2, 18.5, 20.9, 18.9, 20.3, 18.2, 20.5, 18.7,
             20.2, 18.9, 21, 18.6, 20.4, 18.4, 20.3, 18.8, 20.7, 18.5,
             20.2, 18.9, 20.5, 18.1, 20.3, 18.7, 21.1, 18.8, 20.2, 18.6,
             20.6, 18.4, 20.3, 18.9, 20.8, 18.6, 20.2, 18.8, 20.4, 18.3,
             21, 18.7, 20.3, 18.9, 20.5, 18.6, 19.5]

# ---------------------------------------------------------------- 2081-2100_ssp370
P15_ROUNCE = [63.2, 0.5, 0.3, 0.25, 0.25, 0.25, 0.25, 0.25, 0.25, 0.25]
P15_ZEK_LO = [63.2, 0.8, 0.45, 0.45, 0.45, 0.45, 0.45, 0.45, 0.45, 0.45]
P15_ZEK_HI = [63.2, 1, 0.6, 0.55, 0.55, 0.55, 0.55, 0.55, 0.55, 0.55]
P15_COMP_LO = [63.2, 0.8, 0.45, 0.4, 0.4, 0.4]
P15_COMP_HI = [63.2, 1, 0.6, 0.55, 0.55, 0.55]
P15_V16 = [63.2, 1, 0.5, 0.42, 0.4, 0.4,
           0.42, 0.38, 0.41, 0.37, 0.43, 0.38, 0.41, 0.38, 0.42, 0.37,
           0.41, 0.38, 0.43, 0.37, 0.41, 0.38, 0.42, 0.38, 0.41, 0.37,
           0.43, 0.38, 0.41, 0.37, 0.42, 0.38, 0.41, 0.38, 0.43, 0.37,
           0.41, 0.38, 0.42, 0.37, 0.41, 0.38, 0.4]
P15_VAS = [63.2, 6.5, 6.8, 7.2, 7.8, 7,
           7.9, 7, 7.7, 6.9, 8, 7.1, 7.8,
           7, 7.9, 7.2, 7.7, 6.9, 8.1, 7.1,
           7.8, 7, 7.9, 7.2, 7.6, 6.9, 8,
           7.1, 7.8, 7, 7.9, 7.2, 7.7, 6.9,
           8.1, 7.1, 7.8, 7, 7.9, 7.2, 7.6,
           6.9, 8, 7.1, 7.8, 7, 7.9, 7.2,
           7.7, 6.9, 8.1, 7.1, 7.8, 7, 7.4]
P15_GLIMB = [63.2, 10, 5, 3.5, 2.8, 2.5,
             2.5, 2.2, 2.4, 2.1, 2.5, 2.2, 2.4,
             2.2, 2.5, 2.1, 2.4, 2.2, 2.5, 2.2,
             2.4, 2.1, 2.5, 2.2, 2.4, 2.2, 2.5,
             2.1, 2.4, 2.2, 2.5, 2.2, 2.4, 2.1,
             2.5, 2.2, 2.4, 2.2, 2.5, 2.1, 2.4,
             2.2, 2.5, 2.2, 2.4, 2.1, 2.5, 2.2,
             2.4, 2.2, 2.5, 2.1, 2.4, 2.2, 2.3]

# ---------------------------------------------------------------- 2081-2100_ssp585
P16_ROUNCE = [63.2, 0.3, 0.1, 0.05, 0.05, 0.05, 0.05, 0.05, 0.05, 0.05]
P16_ZEK_LO = [63.2, 0.3, 0.15, 0.12, 0.12, 0.12, 0.12, 0.12, 0.12, 0.12]
P16_ZEK_HI = [63.2, 0.5, 0.25, 0.2, 0.2, 0.2, 0.2, 0.2, 0.2, 0.2]
P16_COMP_LO = [63.2, 0.3, 0.15, 0.12, 0.12, 0.12]
P16_COMP_HI = [63.2, 0.5, 0.25, 0.2, 0.2, 0.2]
P16_V16 = [63.2, 0.5, 0.2, 0.12, 0.1, 0.1,
           0.11, 0.09, 0.1, 0.09, 0.11, 0.1, 0.09, 0.1, 0.11, 0.09,
           0.1, 0.09, 0.11, 0.1, 0.09, 0.1, 0.11, 0.09, 0.1, 0.09,
           0.11, 0.1, 0.09, 0.1, 0.11, 0.09, 0.1, 0.09, 0.11, 0.1,
           0.09, 0.1, 0.11, 0.09, 0.1, 0.09, 0.1]
P16_VAS = [63.2, 4, 4.5, 5, 5.3, 4.8,
           5.3, 4.7, 5.2, 4.6, 5.4, 4.8, 5.2,
           4.7, 5.3, 4.8, 5.1, 4.6, 5.4, 4.8,
           5.2, 4.7, 5.3, 4.8, 5.1, 4.7, 5.4,
           4.8, 5.2, 4.6, 5.3, 4.8, 5.1, 4.7,
           5.4, 4.8, 5.2, 4.7, 5.3, 4.8, 5.1,
           4.6, 5.4, 4.8, 5.2, 4.7, 5.3, 4.8,
           5.1, 4.7, 5.4, 4.8, 5.2, 4.7, 5.0]
P16_GLIMB = [63.2, 8, 3, 2, 1.4, 1.2,
             1.2, 1.0, 1.15, 1.0, 1.2, 1.05, 1.15,
             1.0, 1.2, 1.05, 1.15, 0.95, 1.2, 1.05,
             1.15, 1.0, 1.2, 1.05, 1.15, 1.0, 1.2,
             1.0, 1.15, 1.05, 1.2, 1.0, 1.15, 0.95,
             1.2, 1.05, 1.15, 1.0, 1.2, 1.05, 1.15,
             1.0, 1.2, 1.05, 1.15, 1.0, 1.2, 1.0,
             1.15, 1.05, 1.2, 1.0, 1.15, 1.0, 1.1]

PANELS = [
    (P01_ROUNCE, P01_COMP_LO, P01_COMP_HI, P01_ZEK_LO, P01_ZEK_HI, P01_V16, P01_VAS, P01_GLIMB),
    (P02_ROUNCE, P02_COMP_LO, P02_COMP_HI, P02_ZEK_LO, P02_ZEK_HI, P02_V16, P02_VAS, P02_GLIMB),
    (P03_ROUNCE, P03_COMP_LO, P03_COMP_HI, P03_ZEK_LO, P03_ZEK_HI, P03_V16, P03_VAS, P03_GLIMB),
    (P04_ROUNCE, P04_COMP_LO, P04_COMP_HI, P04_ZEK_LO, P04_ZEK_HI, P04_V16, P04_VAS, P04_GLIMB),
    (P05_ROUNCE, P05_COMP_LO, P05_COMP_HI, P05_ZEK_LO, P05_ZEK_HI, P05_V16, P05_VAS, P05_GLIMB),
    (P06_ROUNCE, P06_COMP_LO, P06_COMP_HI, P06_ZEK_LO, P06_ZEK_HI, P06_V16, P06_VAS, P06_GLIMB),
    (P07_ROUNCE, P07_COMP_LO, P07_COMP_HI, P07_ZEK_LO, P07_ZEK_HI, P07_V16, P07_VAS, P07_GLIMB),
    (P08_ROUNCE, P08_COMP_LO, P08_COMP_HI, P08_ZEK_LO, P08_ZEK_HI, P08_V16, P08_VAS, P08_GLIMB),
    (P09_ROUNCE, P09_COMP_LO, P09_COMP_HI, P09_ZEK_LO, P09_ZEK_HI, P09_V16, P09_VAS, P09_GLIMB),
    (P10_ROUNCE, P10_COMP_LO, P10_COMP_HI, P10_ZEK_LO, P10_ZEK_HI, P10_V16, P10_VAS, P10_GLIMB),
    (P11_ROUNCE, P11_COMP_LO, P11_COMP_HI, P11_ZEK_LO, P11_ZEK_HI, P11_V16, P11_VAS, P11_GLIMB),
    (P12_ROUNCE, P12_COMP_LO, P12_COMP_HI, P12_ZEK_LO, P12_ZEK_HI, P12_V16, P12_VAS, P12_GLIMB),
    (P13_ROUNCE, P13_COMP_LO, P13_COMP_HI, P13_ZEK_LO, P13_ZEK_HI, P13_V16, P13_VAS, P13_GLIMB),
    (P14_ROUNCE, P14_COMP_LO, P14_COMP_HI, P14_ZEK_LO, P14_ZEK_HI, P14_V16, P14_VAS, P14_GLIMB),
    (P15_ROUNCE, P15_COMP_LO, P15_COMP_HI, P15_ZEK_LO, P15_ZEK_HI, P15_V16, P15_VAS, P15_GLIMB),
    (P16_ROUNCE, P16_COMP_LO, P16_COMP_HI, P16_ZEK_LO, P16_ZEK_HI, P16_V16, P16_VAS, P16_GLIMB),
]

# ---------------------------------------------------------------- layout geometry
W, H = 3000, 4000
COL_LEFT = [127, 853.5, 1578.5, 2304]
PANEL_W = 569.5
ROW_TOP = [127, 1104, 2080, 3057]
PANEL_H = 841
X_RANGE = [-104, 5104]
Y_RANGE_HIST = [37.5, 118.7]
Y_RANGE_FUT = [-3.16, 66.36]
FONT = "DejaVu Sans"
LINE_W = 4.5      # smooth curves and spin-up parts
NOISE_W = 6.5     # sampled equilibrium fluctuations
EDGE_W = 3


def noisy_years(n, end):
    m = n - len(SPIN_YEARS)
    step = (end - 200) / (m - 1)
    return SPIN_YEARS + [200 + step * i for i in range(m)]


def ax(kind, i):
    return kind if i == 1 else f"{kind}{i}"


def px(x):
    return x / W


def py(y):
    return 1 - y / H


fig = go.Figure()
layout = dict(
    width=W, height=H, margin=dict(l=0, r=0, t=0, b=0),
    paper_bgcolor="white", plot_bgcolor="white",
    font=dict(family=FONT, size=28, color="black"),
    showlegend=False, template="none",
)
annotations = []
shapes = []

common_axis = dict(showgrid=False, zeroline=False, showline=True, linecolor="black",
                   linewidth=1.5, ticks="outside", ticklen=7, tickwidth=1.5,
                   tickcolor="black", tickfont=dict(family=FONT, size=28, color="black"))


def add_noisy(values, core, end, color, kw):
    yrs = noisy_years(len(values), end)
    ns = len(SPIN_YEARS)
    x_a, x_b = yrs[ns], yrs[-1]
    fig.add_trace(go.Scatter(x=yrs[:ns + 1], y=values[:ns + 1],
                             line=dict(color=color, width=LINE_W), **kw))
    fig.add_trace(go.Scatter(x=[x_a, x_b, x_b, x_a, x_a],
                             y=[core[0], core[0], core[1], core[1], core[0]],
                             fill="toself", fillcolor=color, line=dict(width=0), **kw))
    fig.add_trace(go.Scatter(x=yrs[ns:], y=values[ns:],
                             line=dict(color=color, width=NOISE_W, simplify=False), **kw))


for p, series in enumerate(PANELS):
    r, c = divmod(p, 4)
    idx = p + 1
    idx2 = p + 17
    xa, ya, ya2 = ax("x", idx), ax("y", idx), ax("y", idx2)
    hist = r == 0
    yr = Y_RANGE_HIST if hist else Y_RANGE_FUT
    x0, x1 = px(COL_LEFT[c]), px(COL_LEFT[c] + PANEL_W)
    y1, y0 = py(ROW_TOP[r]), py(ROW_TOP[r] + PANEL_H)

    layout[f"xaxis{idx}"] = dict(common_axis, domain=[x0, x1], range=X_RANGE,
                                 tickvals=X_TICKS, anchor=ya, mirror=True,
                                 ticklabelstandoff=-8)
    layout[f"yaxis{idx}"] = dict(common_axis, domain=[y0, y1], range=yr,
                                 tickvals=Y_TICKS_HIST if hist else Y_TICKS_FUT,
                                 anchor=xa, mirror=True)
    layout[f"yaxis{idx2}"] = dict(common_axis, range=[v / INITIAL_VOLUME * 100 for v in yr],
                                  tickvals=Y2_TICKS_HIST if hist else Y2_TICKS_FUT,
                                  overlaying=ya, side="right", anchor=xa)

    rounce, comp_lo, comp_hi, zek_lo, zek_hi, v16, vas, glimb = series
    kw = dict(xaxis=xa, yaxis=ya, showlegend=False, hoverinfo="skip", mode="lines")
    fig.add_trace(go.Scatter(x=SMOOTH_YEARS, y=rounce,
                             line=dict(color=COLORS[0], width=LINE_W), **kw))
    fig.add_trace(go.Scatter(x=COMP_YEARS, y=comp_lo,
                             line=dict(color=COLORS[1], width=EDGE_W), **kw))
    fig.add_trace(go.Scatter(x=COMP_YEARS, y=comp_hi, fill="tonexty", fillcolor=COLORS[1],
                             line=dict(color=COLORS[1], width=EDGE_W), **kw))
    fig.add_trace(go.Scatter(x=SMOOTH_YEARS, y=zek_lo,
                             line=dict(color=COLORS[2], width=EDGE_W), **kw))
    fig.add_trace(go.Scatter(x=SMOOTH_YEARS, y=zek_hi, fill="tonexty", fillcolor=COLORS[2],
                             line=dict(color=COLORS[2], width=EDGE_W), **kw))
    add_noisy(v16, V16_CORE[p], 2000, COLORS[4], kw)
    add_noisy(vas, VAS_CORE[p], 5000, COLORS[5], kw)
    add_noisy(glimb, GLIMB_CORE[p], 5000, COLORS[6], kw)
    # carrier for the right-hand (relative) axis
    fig.add_trace(go.Scatter(x=[0], y=[100], mode="lines", line=dict(width=0),
                             xaxis=xa, yaxis=ya2, showlegend=False, hoverinfo="skip"))

    xc = (x0 + x1) / 2
    annotations.append(dict(text=PANEL_TITLES[p], x=xc, y=y1, xref="paper", yref="paper",
                            xanchor="center", yanchor="bottom", yshift=0, showarrow=False,
                            font=dict(family=FONT, size=33, color="black")))
    annotations.append(dict(text="simulation year", x=xc,
                            y=py(ROW_TOP[r] + PANEL_H + 56), xref="paper", yref="paper",
                            xanchor="center", yanchor="middle", showarrow=False,
                            font=dict(family=FONT, size=30.5, color="black")))
    yc = (y0 + y1) / 2
    if c == 0:
        annotations.append(dict(text="volume (km³)", x=px(43), y=yc, xref="paper", yref="paper",
                                xanchor="center", yanchor="middle", textangle=-90,
                                showarrow=False, font=dict(family=FONT, size=30.5, color="black")))
    if c == 3:
        annotations.append(dict(text="volume (relative to initial state, in %)", x=px(2952),
                                y=yc, xref="paper", yref="paper", xanchor="center",
                                yanchor="middle", textangle=-90, showarrow=False,
                                font=dict(family=FONT, size=30.5, color="black")))

annotations.append(dict(text=SUPTITLE, x=0.5, y=py(93), xref="paper", yref="paper",
                        xanchor="center", yanchor="middle", showarrow=False,
                        font=dict(family=FONT, size=33, color="black")))

# ---------------------------------------------------------------- legend (drawn box)
LEG_L, LEG_R, LEG_T, LEG_B = 2575, 2859, 142, 529
RAD = 8
xl, xr, yt, yb = px(LEG_L), px(LEG_R), py(LEG_T), py(LEG_B)
rx, ry = RAD / W, RAD / H
path = (f"M {xl + rx},{yt} L {xr - rx},{yt} Q {xr},{yt} {xr},{yt - ry} "
        f"L {xr},{yb + ry} Q {xr},{yb} {xr - rx},{yb} L {xl + rx},{yb} "
        f"Q {xl},{yb} {xl},{yb + ry} L {xl},{yt - ry} Q {xl},{yt} {xl + rx},{yt} Z")
shapes.append(dict(type="path", path=path, xref="paper", yref="paper", layer="above",
                   fillcolor="rgba(255,255,255,0.8)", line=dict(color="#cccccc", width=1.5)))
annotations.append(dict(text=LEGEND_TITLE, x=px((LEG_L + LEG_R) / 2), y=py(164),
                        xref="paper", yref="paper", xanchor="center", yanchor="middle",
                        showarrow=False, font=dict(family=FONT, size=28, color="black")))
for k, (name, color) in enumerate(zip(MODELS, COLORS)):
    yy = py(207 + 42 * k)
    shapes.append(dict(type="line", x0=px(2584), x1=px(2642), y0=yy, y1=yy,
                       xref="paper", yref="paper", layer="above",
                       line=dict(color=color, width=3)))
    annotations.append(dict(text=name, x=px(2664), y=yy, xref="paper", yref="paper",
                            xanchor="left", yanchor="middle", showarrow=False,
                            font=dict(family=FONT, size=28, color="black")))

layout["annotations"] = annotations
layout["shapes"] = shapes
fig.update_layout(**layout)
fig.write_html("out.html")
